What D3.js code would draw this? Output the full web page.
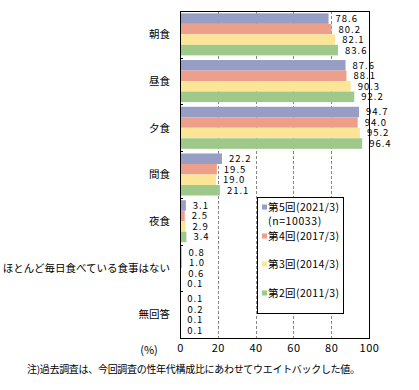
<!DOCTYPE html>
<html>
<head>
<meta charset="utf-8">
<script src="https://cdn.jsdelivr.net/npm/d3@7"></script>
<style>
  body { margin: 0; background: #fff; }
  text { font-family: "Noto Sans CJK JP", sans-serif; }
</style>
</head>
<body>
<div id="chart"></div>
<script>
// data
const categories = ["朝食", "昼食", "夕食", "間食", "夜食", "ほとんど毎日食べている食事はない", "無回答"];
const seriesNames = ["第5回(2021/3)", "第4回(2017/3)", "第3回(2014/3)", "第2回(2011/3)"];
const round5 = [78.6, 87.6, 94.7, 22.2, 3.1, 0.8, 0.1];
const round4 = [80.2, 88.1, 94.0, 19.5, 2.5, 1.0, 0.2];
const round3 = [82.1, 90.3, 95.2, 19.0, 2.9, 0.6, 0.1];
const round2 = [83.6, 92.2, 96.4, 21.1, 3.4, 0.1, 0.1];
const xTicks = [0, 20, 40, 60, 80, 100];

const series = [round5, round4, round3, round2];
const colors = ["#969ec6", "#eca08b", "#fde598", "#9fc98a"];

const W = 419, H = 390;
const plotL = 180, plotR = 369, plotT = 11, plotB = 338;

const svg = d3.select("#chart").append("svg")
  .attr("width", W).attr("height", H);

const x = d3.scaleLinear().domain([0, 100]).range([plotL, plotR]);
const y0 = d3.scaleBand().domain(categories).range([plotT, plotB])
  .paddingInner(0.1).paddingOuter(0.05);
const y1 = d3.scaleBand().domain(d3.range(series.length)).range([0, y0.bandwidth()]);

// grid
svg.append("g")
  .selectAll("line")
  .data(xTicks.slice(1, -1))
  .enter().append("line")
  .attr("x1", d => Math.round(x(d)) + 0.5).attr("x2", d => Math.round(x(d)) + 0.5)
  .attr("y1", plotT).attr("y2", plotB)
  .attr("stroke", "#888").attr("stroke-dasharray", "3,2");

// bars
const groups = svg.append("g").selectAll("g")
  .data(categories)
  .enter().append("g")
  .attr("transform", d => "translate(0," + y0(d) + ")");

groups.each(function (cat, ci) {
  const g = d3.select(this);
  series.forEach((s, si) => {
    g.append("rect")
      .attr("x", x(0))
      .attr("y", y1(si))
      .attr("width", x(s[ci]) - x(0))
      .attr("height", y1.bandwidth())
      .attr("fill", colors[si]);
    g.append("text")
      .attr("x", x(s[ci]) + 7)
      .attr("y", y1(si) + y1.bandwidth() / 2)
      .attr("dy", "0.36em")
      .attr("font-size", 9.5)
      .attr("letter-spacing", 1)
      .text(s[ci].toFixed(1));
  });
});

// frame
svg.append("rect")
  .attr("x", plotL + 0.5).attr("y", plotT + 0.5)
  .attr("width", plotR - plotL).attr("height", plotB - plotT)
  .attr("fill", "none").attr("stroke", "#000");

// left ticks at category boundaries
const bounds = categories.map(c => y0(c) - y0.step() * y0.paddingInner() / 2).slice(1);
svg.append("g").selectAll("line")
  .data(bounds)
  .enter().append("line")
  .attr("x1", plotL).attr("x2", plotL + 3)
  .attr("y1", d => Math.round(d) + 0.5).attr("y2", d => Math.round(d) + 0.5)
  .attr("stroke", "#000");

// category labels
svg.append("g").selectAll("text")
  .data(categories)
  .enter().append("text")
  .attr("x", 170)
  .attr("y", d => y0(d) + y0.bandwidth() / 2)
  .attr("dy", "0.36em")
  .attr("text-anchor", "end")
  .attr("font-size", 10.5)
  .text(d => d);

// x axis labels
const xAxis = d3.axisBottom(x).tickValues(xTicks).tickSize(0).tickPadding(6);
const ax = svg.append("g").attr("transform", "translate(0," + plotB + ")").call(xAxis);
ax.select(".domain").remove();
ax.selectAll("text").attr("font-size", 11).attr("fill", "#000")
  .attr("letter-spacing", 0.5)
  .style("font-family", "'Noto Sans CJK JP', sans-serif");

svg.append("text")
  .attr("x", 149).attr("y", 350).attr("dy", "0.36em")
  .attr("text-anchor", "middle").attr("font-size", 11)
  .text("(%)");

svg.append("text")
  .attr("x", 27).attr("y", 369).attr("dy", "0.36em")
  .attr("font-size", 10).attr("textLength", 333)
  .text("注)過去調査は、今回調査の性年代構成比にあわせてウエイトバックした値。");

// legend
const lg = svg.append("g");
lg.append("rect")
  .attr("x", 257.5).attr("y", 197.5).attr("width", 86).attr("height", 116)
  .attr("fill", "#fff").attr("stroke", "#000");
const legendY = [207, 236, 264, 293];
seriesNames.forEach((name, i) => {
  lg.append("rect")
    .attr("x", 262).attr("y", legendY[i] - 2.5)
    .attr("width", 5).attr("height", 5)
    .attr("fill", colors[i]);
  lg.append("text")
    .attr("x", 268).attr("y", legendY[i]).attr("dy", "0.36em")
    .attr("font-size", 10.5)
    .attr("textLength", 71)
    .text(name);
});
lg.append("text")
  .attr("x", 268).attr("y", 221).attr("dy", "0.36em")
  .attr("font-size", 10.5)
  .attr("letter-spacing", 0.6)
  .text("(n=10033)");
</script>
</body>
</html>
